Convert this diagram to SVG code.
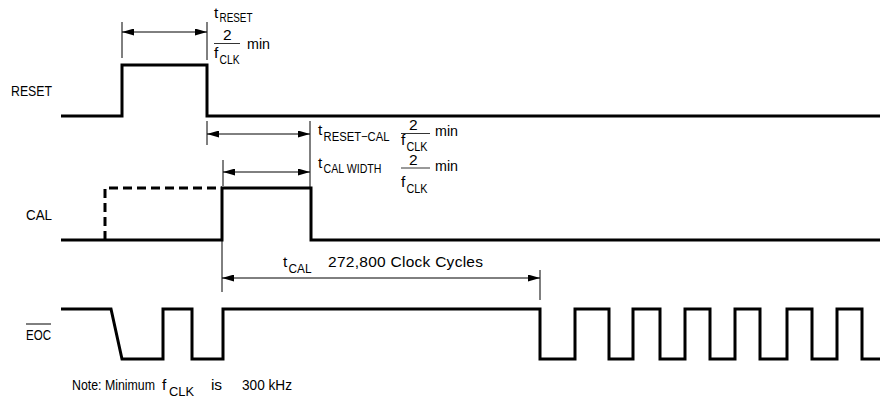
<svg xmlns="http://www.w3.org/2000/svg" width="880" height="398" viewBox="0 0 880 398">
<style>
text{font-family:"Liberation Sans",Arial,sans-serif;fill:#000}
.m{font-size:15.5px}
.s{font-size:12.5px}
.w{fill:none;stroke:#000;stroke-width:3;stroke-linejoin:miter;stroke-linecap:butt}
.d{stroke-dasharray:9,5}
.t{fill:none;stroke:#000;stroke-width:1}
.a{fill:none;stroke:#000;stroke-width:1;marker-start:url(#ah);marker-end:url(#ah)}
.f{stroke:#000;stroke-width:0.8}
</style>
<defs>
<marker id="ah" markerUnits="userSpaceOnUse" markerWidth="12" markerHeight="7" refX="12" refY="3.5" orient="auto-start-reverse">
<path d="M0,0 L12,3.5 L0,7 z" fill="#000"/>
</marker>
</defs>
<rect width="880" height="398" fill="#fff"/>

<g id="reset">
<text class="m" x="11" y="96" textLength="41" lengthAdjust="spacingAndGlyphs">RESET</text>
<path class="w" d="M61,116 H122 V65 H207 V116 H880"/>
</g>

<g id="cal">
<text class="m" x="26" y="220" textLength="26" lengthAdjust="spacingAndGlyphs">CAL</text>
<path class="w d" d="M105,240 V188 H222"/>
<path class="w" d="M61,240 H222 V188 H311 V240 H880"/>
</g>

<g id="eoc">
<text class="m" x="26" y="340" textLength="25" lengthAdjust="spacingAndGlyphs">EOC</text>
<line class="t" x1="26" y1="324" x2="51" y2="324"/>
<path class="w" d="M61,309 H111 L122,359 H163 V309 H192 V359 H223 V309 H540 V359 H575 V309 H609 V359 H633 V309 H660 V359 H685 V309 H710 V359 H735 V309 H760 V359 H787 V309 H812 V359 H837 V309 H862 V359 H880"/>
</g>

<g id="connectors">
<line class="t" x1="122" y1="22" x2="122" y2="58"/>
<line class="t" x1="207" y1="22" x2="207" y2="60"/>
<line class="a" x1="122" y1="32" x2="207" y2="32"/>

<line class="t" x1="207" y1="121" x2="207" y2="145"/>
<line class="t" x1="310" y1="121" x2="310" y2="188"/>
<line class="a" x1="207" y1="134" x2="310" y2="134"/>

<line class="t" x1="223" y1="160" x2="223" y2="186"/>
<line class="a" x1="223" y1="172" x2="310" y2="172"/>

<line class="t" x1="222" y1="240" x2="222" y2="292"/>
<line class="t" x1="540" y1="270" x2="540" y2="300"/>
<line class="a" x1="222" y1="278" x2="540" y2="278"/>
</g>

<g id="label-treset">
<text class="m" x="214" y="18">t<tspan class="s" x="219.5" dy="4" textLength="33" lengthAdjust="spacingAndGlyphs">RESET</tspan></text>
<text class="m" x="223" y="40">2</text>
<line class="f" x1="214" y1="43.5" x2="240" y2="43.5"/>
<text class="m" x="214" y="58">f<tspan class="s" x="219.5" dy="6" textLength="20" lengthAdjust="spacingAndGlyphs">CLK</tspan></text>
<text class="m" x="247" y="48.5" textLength="23" lengthAdjust="spacingAndGlyphs">min</text>
</g>

<g id="label-treset-cal">
<text class="m" x="318" y="135">t<tspan class="s" x="323.5" dy="6" textLength="66" lengthAdjust="spacingAndGlyphs">RESET−CAL</tspan></text>
<text class="m" x="409" y="130">2</text>
<line class="f" x1="401" y1="133.5" x2="430" y2="133.5"/>
<text class="m" x="401" y="145">f<tspan class="s" x="406.5" dy="5.5" textLength="21" lengthAdjust="spacingAndGlyphs">CLK</tspan></text>
<text class="m" x="435" y="135.5" textLength="23" lengthAdjust="spacingAndGlyphs">min</text>
</g>

<g id="label-tcal-width">
<text class="m" x="318" y="168">t<tspan class="s" x="323.5" dy="4.5" textLength="58" lengthAdjust="spacingAndGlyphs">CAL WIDTH</tspan></text>
<text class="m" x="409" y="165">2</text>
<line class="f" x1="401" y1="168" x2="430" y2="168"/>
<text class="m" x="401" y="187">f<tspan class="s" x="406.5" dy="5.5" textLength="21" lengthAdjust="spacingAndGlyphs">CLK</tspan></text>
<text class="m" x="435" y="171" textLength="23" lengthAdjust="spacingAndGlyphs">min</text>
</g>

<g id="label-tcal">
<text class="m" x="283" y="267">t<tspan class="s" x="288.5" dy="6" textLength="23" lengthAdjust="spacingAndGlyphs">CAL</tspan></text>
<text class="m" x="328" y="267" textLength="155">272,800 Clock Cycles</text>
</g>

<g id="note">
<text class="m" x="72" y="390" textLength="83" lengthAdjust="spacingAndGlyphs">Note: Minimum</text>
<text class="m" x="162" y="390">f<tspan class="s" x="169" dy="5.5" textLength="25" lengthAdjust="spacingAndGlyphs">CLK</tspan></text>
<text class="m" x="211" y="390" textLength="11">is</text>
<text class="m" x="242" y="390" textLength="50" lengthAdjust="spacingAndGlyphs">300 kHz</text>
</g>
</svg>
